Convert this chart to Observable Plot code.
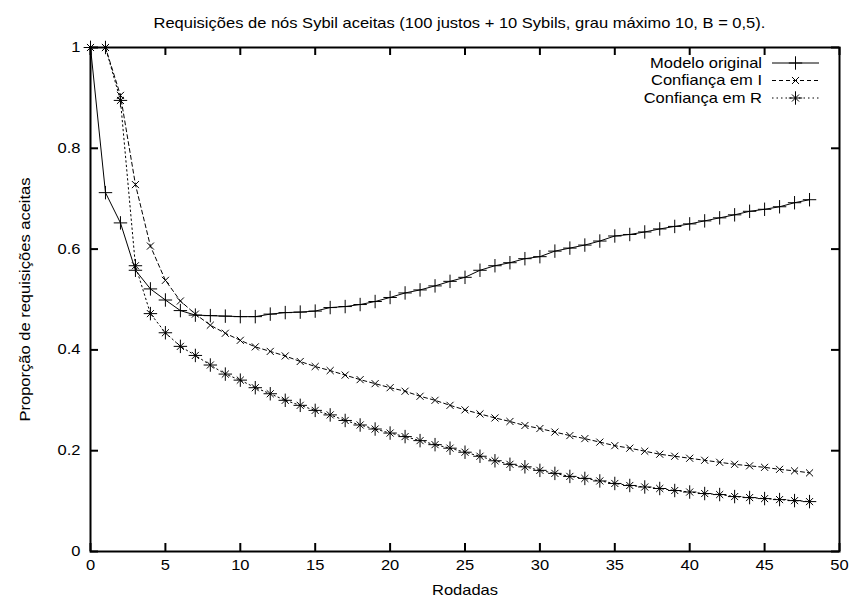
<!DOCTYPE html>
<html><head><meta charset="utf-8">
<script src="https://cdn.jsdelivr.net/npm/d3@7"></script>
<script src="https://cdn.jsdelivr.net/npm/@observablehq/plot@0.6"></script>
<style>
body{margin:0;background:#fff}
#chart{position:relative;width:851px;height:601px}
#legend{position:absolute;left:0;top:0;pointer-events:none}
</style>
</head><body><div id="chart"></div>
<script>
const title = "Requisições de nós Sybil aceitas (100 justos + 10 Sybils, grau máximo 10, B = 0,5).";
const xLabel = "Rodadas";
const yLabel = "Proporção de requisições aceitas";
const seriesNames = ["Modelo original", "Confiança em I", "Confiança em R"];
const rodadas = [0,1,2,3,4,5,6,7,8,9,10,11,12,13,14,15,16,17,18,19,20,21,22,23,24,25,26,27,28,29,30,31,32,33,34,35,36,37,38,39,40,41,42,43,44,45,46,47,48];
const modeloOriginal = [1,0.712,0.652,0.558,0.521,0.499,0.478,0.469,0.468,0.467,0.466,0.466,0.471,0.474,0.475,0.477,0.484,0.486,0.490,0.496,0.504,0.513,0.519,0.527,0.536,0.544,0.558,0.567,0.573,0.581,0.585,0.596,0.602,0.608,0.616,0.626,0.629,0.634,0.640,0.645,0.650,0.656,0.662,0.668,0.675,0.679,0.684,0.692,0.698];
const confiancaI = [1,1,0.905,0.728,0.606,0.538,0.497,0.471,0.449,0.433,0.419,0.406,0.397,0.388,0.377,0.367,0.359,0.350,0.341,0.333,0.325,0.318,0.308,0.300,0.290,0.281,0.273,0.265,0.258,0.250,0.244,0.237,0.230,0.224,0.217,0.210,0.205,0.199,0.193,0.189,0.185,0.181,0.177,0.173,0.170,0.167,0.163,0.160,0.156];
const confiancaR = [1,1,0.895,0.567,0.472,0.434,0.407,0.389,0.370,0.352,0.340,0.325,0.313,0.300,0.290,0.280,0.271,0.260,0.251,0.243,0.235,0.228,0.220,0.212,0.205,0.197,0.189,0.180,0.173,0.168,0.161,0.155,0.149,0.145,0.140,0.135,0.131,0.128,0.125,0.121,0.118,0.115,0.113,0.109,0.107,0.105,0.103,0.101,0.099];
const xTicks = [0,5,10,15,20,25,30,35,40,45,50];
const yTicks = [0,0.2,0.4,0.6,0.8,1];

const W = 851, H = 601, mL = 90, mR = 12, mT = 47, mB = 50;
const innerW = W - mL - mR, innerH = H - mT - mB;
const tickLen = 8;
const font = "'Liberation Sans', Arial, Helvetica, sans-serif";
const stretch = 1.18;

const toRows = (vals) => rodadas.map((r, i) => ({rodada: r, valor: vals[i]}));
const datasets = [toRows(modeloOriginal), toRows(confiancaI), toRows(confiancaR)];

const styles = [
  {dash: null, symbols: ["plus"]},
  {dash: "4,3", symbols: ["times"]},
  {dash: "1.5,3", symbols: ["plus", "times"]}
];
const symR = {plus: 4.4, times: 3.3};

const marks = [];
datasets.forEach((d, k) => {
  marks.push(Plot.line(d, {x: "rodada", y: "valor", stroke: "#000", strokeWidth: 1, strokeDasharray: styles[k].dash}));
  styles[k].symbols.forEach(s => marks.push(Plot.dot(d, {x: "rodada", y: "valor", symbol: s, r: symR[s], stroke: "#000", strokeWidth: 1})));
});

const chart = Plot.plot({
  width: W, height: H,
  marginLeft: mL, marginRight: mR, marginTop: mT, marginBottom: mB,
  style: {fontFamily: font, fontSize: "14px", background: "#fff", color: "#000"},
  x: {domain: [0, 50]},
  y: {domain: [0, 1]},
  marks: [
    ...marks,
    Plot.frame({stroke: "#000", strokeWidth: 2}),
    Plot.tickX(xTicks, {x: d => d, insetTop: innerH - tickLen, stroke: "#000", strokeWidth: 2}),
    Plot.tickX(xTicks, {x: d => d, insetBottom: innerH - tickLen, stroke: "#000", strokeWidth: 2}),
    Plot.tickY(yTicks, {y: d => d, insetRight: innerW - tickLen, stroke: "#000", strokeWidth: 2}),
    Plot.tickY(yTicks, {y: d => d, insetLeft: innerW - tickLen, stroke: "#000", strokeWidth: 2}),
    Plot.axisX({ticks: xTicks, tickSize: 0, tickPadding: 9, label: null, fontSize: 14, tickFormat: d => String(d)}),
    Plot.axisY({ticks: yTicks, tickSize: 0, tickPadding: 10, label: null, fontSize: 14, tickFormat: d => String(d)}),
    Plot.text([xLabel], {text: d => d, frameAnchor: "bottom", textAnchor: "middle", dy: 43, fontSize: 14, fill: "#000"}),
    Plot.text([yLabel], {text: d => d, frameAnchor: "left", textAnchor: "middle", lineAnchor: "middle", dx: -65, rotate: -90, fontSize: 14, fill: "#000"}),
    Plot.text([title], {text: d => d, frameAnchor: "top-left", textAnchor: "start", dy: -29, dx: 63, fontSize: 14, fill: "#000"})
  ]
});
document.getElementById("chart").appendChild(chart);

// widen glyphs horizontally (along the text direction) to match the reference typeface
chart.querySelectorAll("text").forEach(t => {
  const tr = t.getAttribute("transform") || "";
  t.setAttribute("transform", `${tr} scale(${stretch},1)`);
});

// legend overlay
const leg = d3.select("#chart").append("svg").attr("id", "legend").attr("width", W).attr("height", H)
  .style("font-family", font).style("font-size", "14px");
const rowY = [63, 80.5, 98];
const textRight = 762, lineX1 = 772, lineX2 = 819, markX = 795.5;
seriesNames.forEach((name, k) => {
  const y = rowY[k];
  leg.append("text").attr("transform", `translate(${textRight},${y}) scale(${stretch},1)`)
    .attr("dy", "0.35em").attr("text-anchor", "end").attr("fill", "#000").text(name);
  leg.append("line").attr("x1", lineX1).attr("x2", lineX2).attr("y1", y).attr("y2", y)
    .attr("stroke", "#000").attr("stroke-width", 1).attr("stroke-dasharray", styles[k].dash);
  styles[k].symbols.forEach(s => {
    const sym = s === "plus" ? d3.symbolPlus : d3.symbolTimes;
    leg.append("path").attr("transform", `translate(${markX},${y})`)
      .attr("d", d3.symbol(sym, Math.PI * symR[s] * symR[s])())
      .attr("fill", "none").attr("stroke", "#000").attr("stroke-width", 1);
  });
});
</script>
</body></html>
